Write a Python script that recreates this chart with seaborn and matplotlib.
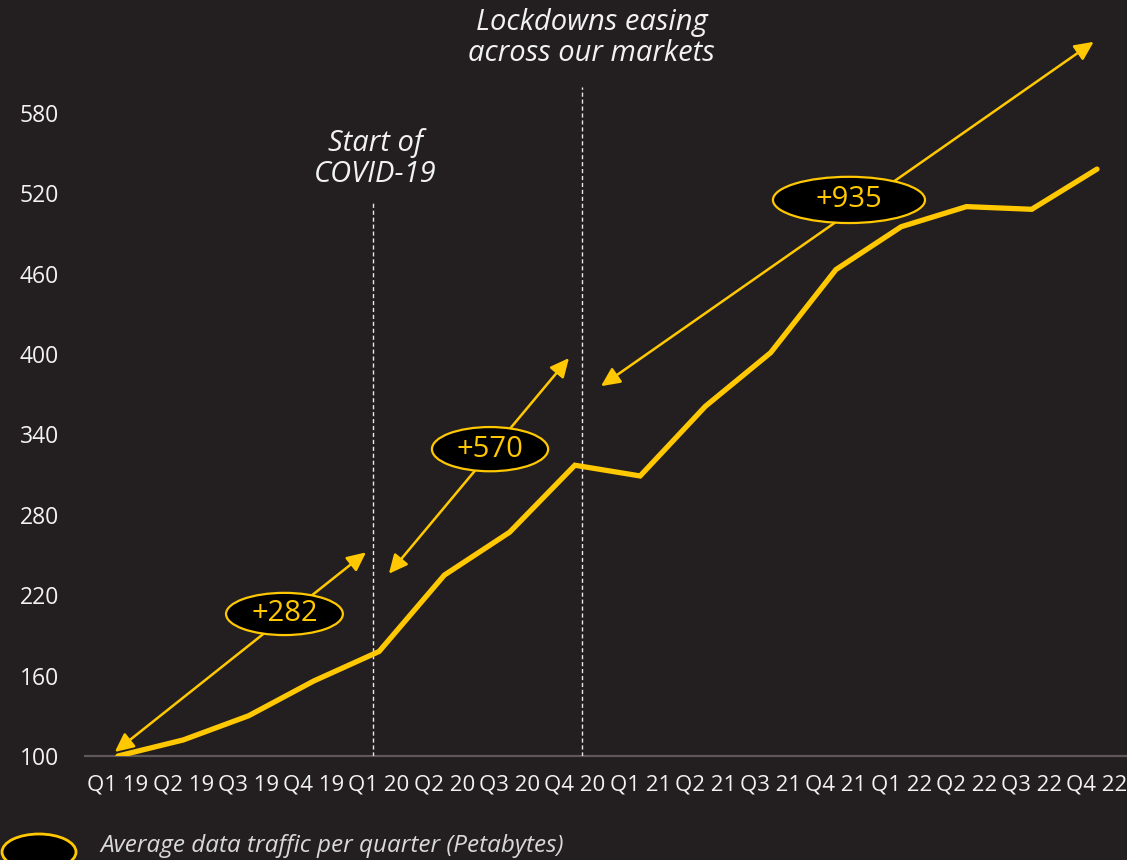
import matplotlib
matplotlib.use("Agg")
import matplotlib.pyplot as plt
from matplotlib.patches import Ellipse, FancyArrowPatch
import numpy as np
import pandas as pd
import seaborn as sns

# Average data traffic per quarter (Petabytes)
quarters = ["Q1 19", "Q2 19", "Q3 19", "Q4 19",
            "Q1 20", "Q2 20", "Q3 20", "Q4 20",
            "Q1 21", "Q2 21", "Q3 21", "Q4 21",
            "Q1 22", "Q2 22", "Q3 22", "Q4 22"]
traffic = [100, 112, 130, 156,
           178, 235, 267, 317,
           309, 361, 401, 463,
           495, 510, 508, 538]
y_ticks = [100, 160, 220, 280, 340, 400, 460, 520, 580]

# growth call-outs: label, centre (quarter index, value), arrow ends
growth_labels = ["+282", "+570", "+935"]
growth_centres = [(2.55, 206), (5.70, 329), (11.20, 515)]
growth_sizes = [(1.79, 31.5), (1.78, 33.0), (2.33, 34.5)]
growth_arrows = [((-0.05, 103), (3.80, 252)),
                 ((4.15, 236), (6.91, 397)),
                 ((7.40, 376), (14.95, 633))]

# event markers: position on the quarter axis, top of the marker line, caption
event_x = [3.91, 7.11]
event_top = [513, 599]
event_text = ["Start of\nCOVID-19", "Lockdowns easing\nacross our markets"]
event_text_pos = [(3.94, 546), (7.26, 636)]

BG = "#231F20"
YELLOW = "#FFC800"
TEXT = "#F2F2F2"
FONT = ["Open Sans", "DejaVu Sans"]

sns.set_theme(style="dark")
plt.rcParams["font.family"] = FONT
plt.rcParams["axes.facecolor"] = BG
plt.rcParams["figure.facecolor"] = BG

fig = plt.figure(figsize=(11.27, 8.60), dpi=100)
ax = fig.add_axes([85 / 1127, 104 / 860, 1 - 85 / 1127, 756 / 860])
ax.set_facecolor(BG)

df = pd.DataFrame({"idx": np.arange(len(quarters)), "traffic": traffic})
sns.lineplot(data=df, x="idx", y="traffic", ax=ax, color=YELLOW,
             linewidth=3.8, solid_joinstyle="miter", zorder=5)

ax.set_xlim(-0.506, 15.46)
ax.set_ylim(100, 664.2)

ax.set_xticks(np.arange(len(quarters)))
ax.set_xticklabels(quarters, fontsize=16, color=TEXT)
ax.set_yticks(y_ticks)
ax.set_yticklabels([str(v) for v in y_ticks], fontsize=16.5, color=TEXT,
                   ha="left")
ax.tick_params(axis="x", length=0, pad=13)
ax.tick_params(axis="y", length=0, pad=47)
ax.set_xlabel("")
ax.set_ylabel("")
ax.grid(False)
for side in ["top", "right", "left"]:
    ax.spines[side].set_visible(False)
ax.spines["bottom"].set_color("#5f565a")
ax.spines["bottom"].set_linewidth(1.6)

# event marker lines and captions
for x, top, txt, (tx, ty) in zip(event_x, event_top, event_text, event_text_pos):
    ax.plot([x, x], [100, top], color="#E8E8E8", linewidth=1.0,
            linestyle=(0, (3, 2)), zorder=3)
    ax.text(tx, ty, txt, ha="center", va="center", fontsize=21,
            style="italic", color=TEXT, linespacing=1.1, zorder=6)

# double-headed growth arrows
for (p0, p1) in growth_arrows:
    arr = FancyArrowPatch(p0, p1, arrowstyle="<|-|>,head_length=0.95,head_width=0.45",
                          mutation_scale=12, color=YELLOW, linewidth=1.8,
                          shrinkA=0, shrinkB=0, zorder=4)
    ax.add_patch(arr)

# growth call-out bubbles
for lab, (cx, cy), (w, h) in zip(growth_labels, growth_centres, growth_sizes):
    ax.add_patch(Ellipse((cx, cy), w, h, facecolor="black", edgecolor=YELLOW,
                         linewidth=1.6, zorder=7))
    ax.text(cx, cy, lab, ha="center", va="center", fontsize=21,
            color=YELLOW, zorder=8)

# legend swatch and caption
fig.patches.append(Ellipse((39 / 1127, 1 - 852 / 860), 74 / 1127, 36 / 860,
                           transform=fig.transFigure, facecolor="black",
                           edgecolor=YELLOW, linewidth=2.0))
fig.text(100 / 1127, 1 - 846 / 860, "Average data traffic per quarter (Petabytes)",
         ha="left", va="center", fontsize=17.5, style="italic", color="#D9D9D9")

fig.savefig("out.png", dpi=100, facecolor=BG)
